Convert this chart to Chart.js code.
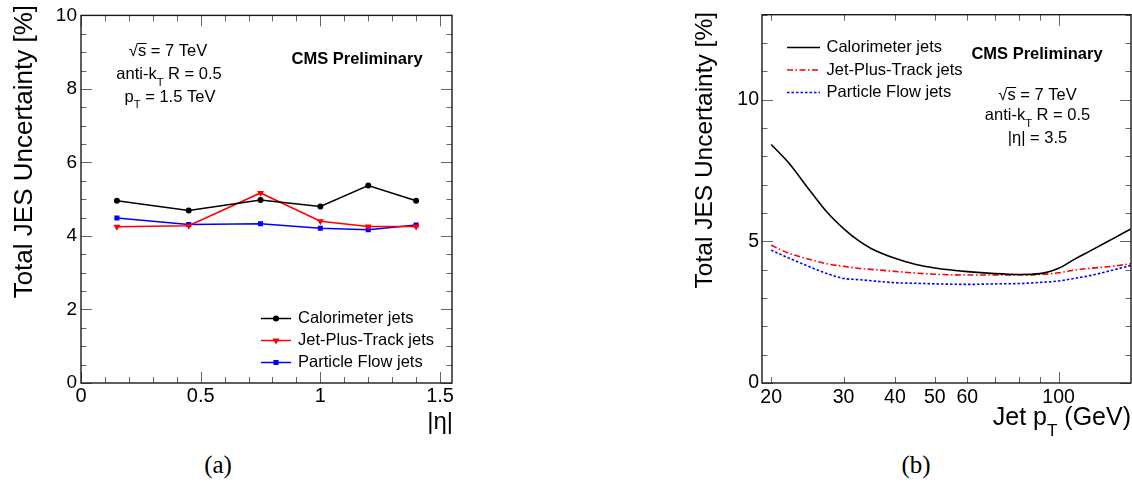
<!DOCTYPE html>
<html>
<head>
<meta charset="utf-8">
<title>Total JES uncertainty</title>
<script src="https://cdn.jsdelivr.net/npm/chart.js@4.4.1/dist/chart.umd.min.js"></script>
<style>
  body { margin: 0; background: #fff; }
  #page { position: relative; width: 1132px; height: 489px; overflow: hidden; background: #fff; }
  .panel { position: absolute; top: 0; height: 440px; }
  #panelA { left: 0; width: 470px; }
  #panelB { left: 690px; width: 442px; }
  .caption { position: absolute; top: 451px; font-family: "Liberation Serif", "DejaVu Serif", serif; font-size: 25px; transform: translateX(-50%); }
</style>
</head>
<body>
<div id="page">
  <div class="panel" id="panelA"><canvas id="chartA"></canvas></div>
  <div class="panel" id="panelB"><canvas id="chartB"></canvas></div>
  <div class="caption" style="left:218px">(a)</div>
  <div class="caption" style="left:916px">(b)</div>
</div>
<script>
// (a) uncertainty vs |eta|, pT = 1.5 TeV
const etaA = [0.15, 0.45, 0.75, 1.0, 1.2, 1.4];
const caloA = [4.96, 4.69, 4.98, 4.80, 5.37, 4.96];
const jptA = [4.25, 4.28, 5.17, 4.40, 4.26, 4.26];
const pfA = [4.49, 4.31, 4.33, 4.21, 4.17, 4.30];
const xTicksA = [0, 0.5, 1, 1.5];
const yTicksA = [0, 2, 4, 6, 8, 10];

// (b) uncertainty vs jet pT, |eta| = 3.5
const ptB = [20, 22, 25, 27.5, 30, 32.5, 35, 40, 45, 50, 60, 70, 80, 90, 100, 110, 120, 135, 150];
const caloB = [8.42, 7.79, 6.74, 5.99, 5.45, 5.04, 4.75, 4.40, 4.18, 4.06, 3.93, 3.86, 3.83, 3.86, 4.05, 4.39, 4.68, 5.08, 5.44];
const jptB = [4.86, 4.59, 4.35, 4.20, 4.12, 4.05, 4.01, 3.94, 3.88, 3.84, 3.81, 3.81, 3.81, 3.83, 3.89, 3.99, 4.05, 4.12, 4.21];
const pfB = [4.69, 4.42, 4.08, 3.85, 3.69, 3.65, 3.61, 3.54, 3.52, 3.50, 3.48, 3.50, 3.51, 3.55, 3.60, 3.70, 3.80, 3.98, 4.15];
const xTicksB = [20, 30, 40, 50, 60, 100];
const yTicksB = [0, 5, 10];

const FONT = '"Liberation Sans", Arial, Helvetica, sans-serif';
const xy = (xs, ys) => xs.map((x, i) => ({ x, y: ys[i] }));
const steps = (from, to, step) => {
  const out = [];
  for (let v = from; v <= to + 1e-9; v += step) out.push(+v.toFixed(3));
  return out;
};
const isMult = (v, m) => Math.abs(v / m - Math.round(v / m)) < 1e-6;

// text with optional subscript / overline parts: [text, kind]
function drawRich(ctx, t) {
  const font = k => `${t.bold ? 'bold ' : ''}${k === 'sub' ? t.size * 0.68 : t.size}px ${FONT}`;
  let w = 0;
  t.parts.forEach(([s, k]) => { ctx.font = font(k); w += ctx.measureText(s).width; });
  ctx.save();
  ctx.translate(t.x, t.y);
  if (t.rot) ctx.rotate(t.rot);
  ctx.textAlign = 'left';
  ctx.textBaseline = 'alphabetic';
  ctx.fillStyle = '#000';
  ctx.strokeStyle = '#000';
  let cx = t.align === 'center' ? -w / 2 : t.align === 'right' ? -w : 0;
  let radTop = t.size * 0.8;
  t.parts.forEach(([s, k]) => {
    ctx.font = font(k);
    const sw = ctx.measureText(s).width;
    if (s === '√') radTop = ctx.measureText(s).actualBoundingBoxAscent || radTop;
    ctx.fillText(s, cx, k === 'sub' ? t.size * 0.42 : 0);
    if (k === 'bar') {
      ctx.lineWidth = 1;
      ctx.beginPath();
      ctx.moveTo(cx - 0.5, -radTop + 0.5);
      ctx.lineTo(cx + sw + 0.5, -radTop + 0.5);
      ctx.stroke();
    }
    cx += sw;
  });
  ctx.restore();
}

function makeFrame(xt, yt) {
  return {
    id: 'frame',
    afterDatasetsDraw(chart) {
      const { ctx, chartArea: a, scales } = chart;
      const seg = (x1, y1, x2, y2) => { ctx.beginPath(); ctx.moveTo(x1, y1); ctx.lineTo(x2, y2); ctx.stroke(); };
      ctx.save();
      ctx.strokeStyle = '#666';
      ctx.lineWidth = 1;
      xt.forEach(([v, len]) => {
        const p = Math.round(scales.x.getPixelForValue(v)) + 0.5;
        seg(p, a.bottom, p, a.bottom - len);
        seg(p, a.top, p, a.top + len);
      });
      yt.forEach(([v, len]) => {
        const p = Math.round(scales.y.getPixelForValue(v)) + 0.5;
        seg(a.left, p, a.left + len, p);
        seg(a.right, p, a.right - len, p);
      });
      ctx.strokeStyle = '#1a1a1a';
      ctx.lineWidth = 1.4;
      ctx.strokeRect(a.left, a.top, a.right - a.left, a.bottom - a.top);
      ctx.restore();
    }
  };
}

function makeNotes(texts, legend) {
  return {
    id: 'notes',
    afterDraw(chart) {
      const ctx = chart.ctx;
      texts.forEach(t => drawRich(ctx, t));
      if (!legend) return;
      ctx.save();
      chart.data.datasets.forEach((ds, i) => {
        const y = legend.ys[i] + 0.5;
        ctx.strokeStyle = ds.borderColor;
        ctx.fillStyle = ds.borderColor;
        ctx.lineWidth = ds.borderWidth;
        ctx.setLineDash(ds.borderDash || []);
        ctx.beginPath();
        ctx.moveTo(legend.x1, y);
        ctx.lineTo(legend.x2, y);
        ctx.stroke();
        ctx.setLineDash([]);
        if (legend.markers && Chart.helpers && Chart.helpers.drawPoint) {
          Chart.helpers.drawPoint(ctx, {
            pointStyle: ds.pointStyle, rotation: ds.pointRotation || 0,
            radius: ds.pointRadius, borderWidth: 0
          }, (legend.x1 + legend.x2) / 2, y);
        }
        ctx.fillStyle = '#000';
        ctx.font = `${legend.size}px ${FONT}`;
        ctx.textBaseline = 'middle';
        ctx.textAlign = 'left';
        ctx.fillText(ds.label, legend.tx, y);
      });
      ctx.restore();
    }
  };
}

function axis(opts) {
  return {
    type: opts.type || 'linear',
    min: opts.min,
    max: opts.max,
    afterBuildTicks: s => { s.ticks = opts.ticks.map(v => ({ value: v })); },
    afterFit: s => { if (opts.width) s.width = opts.width; if (opts.height) s.height = opts.height; },
    grid: { display: false, drawTicks: false },
    border: { display: false },
    ticks: {
      autoSkip: false, maxRotation: 0, padding: opts.pad, color: '#000',
      font: { family: FONT, size: opts.size },
      callback: v => String(v)
    }
  };
}

// panel (a)
new Chart(document.getElementById('chartA'), {
  type: 'line',
  data: {
    datasets: [
      { label: 'Calorimeter jets', data: xy(etaA, caloA), borderColor: '#000000', backgroundColor: '#000000',
        borderWidth: 1.5, pointStyle: 'circle', pointRadius: 3, pointBorderWidth: 0 },
      { label: 'Jet-Plus-Track jets', data: xy(etaA, jptA), borderColor: '#ff0000', backgroundColor: '#ff0000',
        borderWidth: 1.5, pointStyle: 'triangle', pointRotation: 180, pointRadius: 4, pointBorderWidth: 0 },
      { label: 'Particle Flow jets', data: xy(etaA, pfA), borderColor: '#0000ff', backgroundColor: '#0000ff',
        borderWidth: 1.5, pointStyle: 'rect', pointRadius: 3.6, pointBorderWidth: 0 }
    ]
  },
  options: {
    responsive: true, maintainAspectRatio: false, animation: false,
    layout: { padding: { top: 14, right: 18, left: 0, bottom: 0 } },
    plugins: { legend: { display: false }, tooltip: { enabled: false } },
    scales: {
      x: axis({ min: 0, max: 1.55, ticks: xTicksA, height: 57, pad: 1, size: 20 }),
      y: axis({ min: 0, max: 10, ticks: yTicksA, width: 81, pad: 4, size: 19 })
    }
  },
  plugins: [
    makeFrame(
      steps(0, 1.55, 0.1).map(v => [v, isMult(v, 0.5) ? 11 : 6]),
      steps(0, 10, 0.5).map(v => [v, isMult(v, 2) ? 11 : 5.5])
    ),
    makeNotes([
      { parts: [['Total JES Uncertainty [%]']], x: 31.5, y: 5, size: 26, align: 'right', rot: -Math.PI / 2 },
      { parts: [['|η|']], x: 453, y: 429, size: 24, align: 'right' },
      { parts: [['√'], ['s', 'bar'], [' = 7 TeV']], x: 168, y: 56, size: 16.5, align: 'center' },
      { parts: [['anti-k'], ['T', 'sub'], [' R = 0.5']], x: 169, y: 79, size: 16.5, align: 'center' },
      { parts: [['p'], ['T', 'sub'], [' = 1.5 TeV']], x: 170, y: 101.5, size: 16.5, align: 'center' },
      { parts: [['CMS Preliminary']], x: 291.5, y: 64, size: 16.5, bold: true, align: 'left' }
    ], { x1: 261, x2: 291, tx: 298, ys: [318, 340, 362], size: 16.5, markers: true })
  ]
});

// panel (b)
new Chart(document.getElementById('chartB'), {
  type: 'line',
  data: {
    datasets: [
      { label: 'Calorimeter jets', data: xy(ptB, caloB), borderColor: '#000000', borderWidth: 1.6,
        pointRadius: 0, cubicInterpolationMode: 'monotone' },
      { label: 'Jet-Plus-Track jets', data: xy(ptB, jptB), borderColor: '#ff0000', borderWidth: 1.6,
        borderDash: [6, 2.5, 1.5, 2.5], pointRadius: 0, cubicInterpolationMode: 'monotone' },
      { label: 'Particle Flow jets', data: xy(ptB, pfB), borderColor: '#0000ff', borderWidth: 1.6,
        borderDash: [2.5, 2], pointRadius: 0, cubicInterpolationMode: 'monotone' }
    ]
  },
  options: {
    responsive: true, maintainAspectRatio: false, animation: false,
    layout: { padding: { top: 14, right: 1, left: 0, bottom: 0 } },
    plugins: { legend: { display: false }, tooltip: { enabled: false } },
    scales: {
      x: axis({ type: 'logarithmic', min: 19, max: 150, ticks: xTicksB, height: 57, pad: 3, size: 19.5 }),
      y: axis({ min: 0, max: 13, ticks: yTicksB, width: 72, pad: 3, size: 19.5 })
    }
  },
  plugins: [
    makeFrame(
      steps(20, 100, 10).map(v => [v, v === 100 ? 11 : 6]),
      steps(0, 13, 1).map(v => [v, isMult(v, 5) ? 11 : 5.5])
    ),
    makeNotes([
      { parts: [['Total JES Uncertainty [%]']], x: 21.5, y: 12, size: 24.5, align: 'right', rot: -Math.PI / 2 },
      { parts: [['Jet p'], ['T', 'sub'], [' (GeV)']], x: 441, y: 425, size: 25, align: 'right' },
      { parts: [['CMS Preliminary']], x: 347, y: 58.5, size: 16.5, bold: true, align: 'center' },
      { parts: [['√'], ['s', 'bar'], [' = 7 TeV']], x: 347.5, y: 100, size: 16.5, align: 'center' },
      { parts: [['anti-k'], ['T', 'sub'], [' R = 0.5']], x: 347.5, y: 120, size: 16.5, align: 'center' },
      { parts: [['|η| = 3.5']], x: 347.5, y: 142.5, size: 16.5, align: 'center' }
    ], { x1: 97, x2: 130, tx: 136.5, ys: [47, 69.5, 92], size: 16.5, markers: false })
  ]
});
</script>
</body>
</html>
